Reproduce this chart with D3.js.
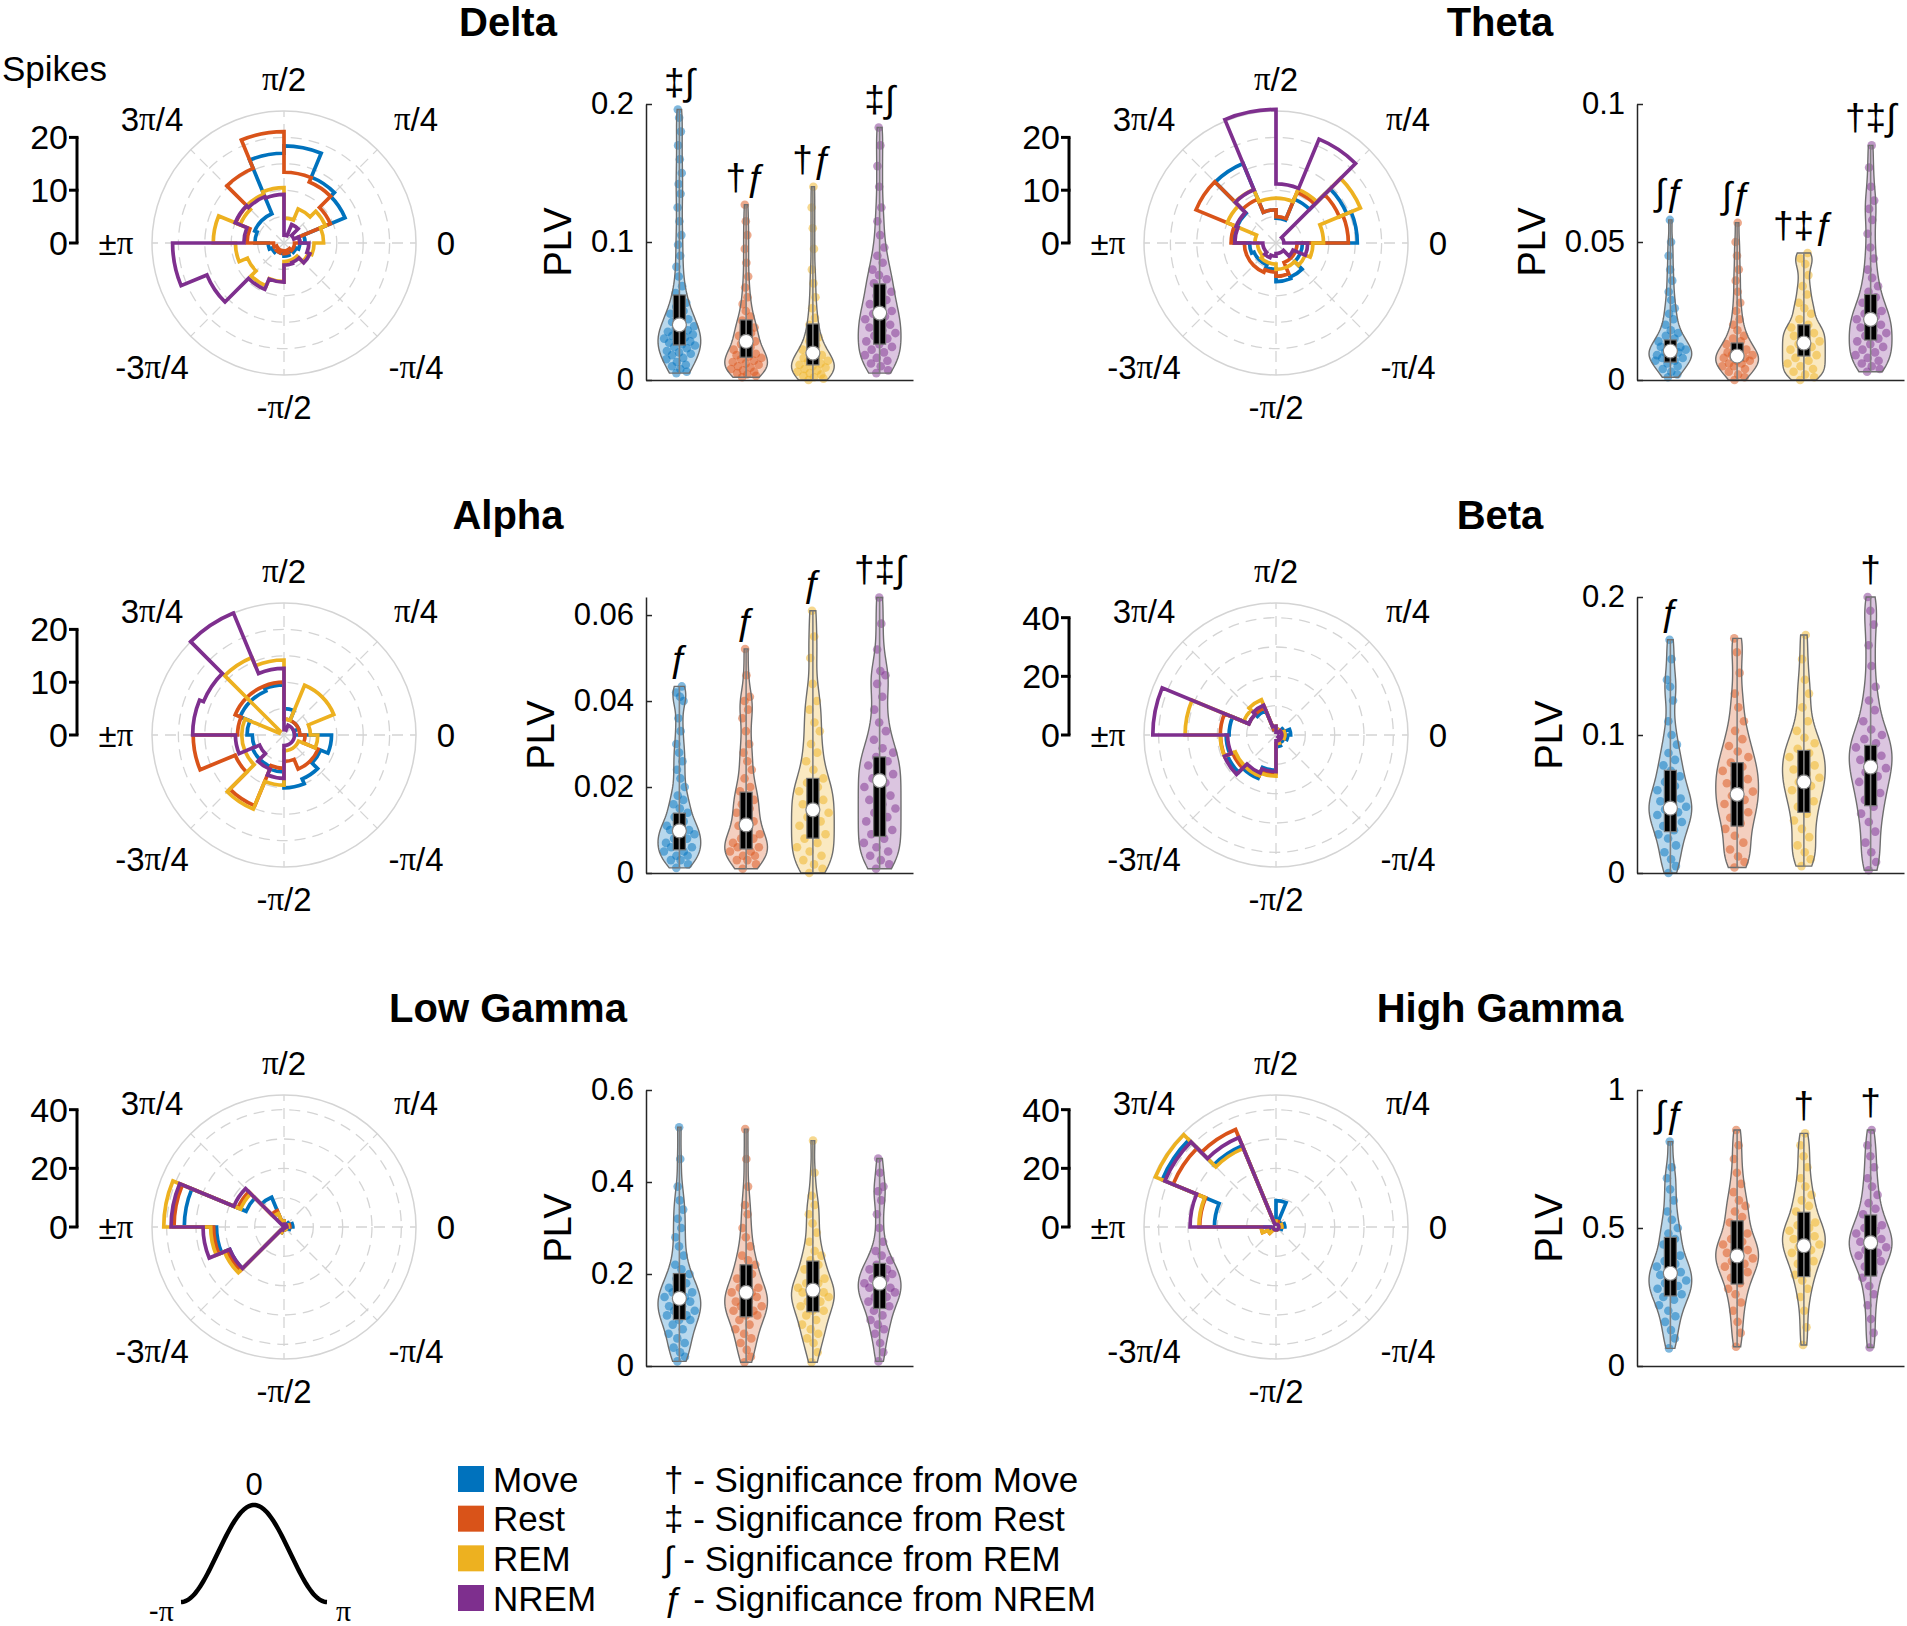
<!DOCTYPE html>
<html>
<head>
<meta charset="utf-8">
<script src="https://cdn.jsdelivr.net/npm/d3@7"></script>
<style>
  body { margin: 0; background: #fff; }
  text { font-family: "Liberation Sans", Arial, sans-serif; fill: #000; }
</style>
</head>
<body>
<svg id="fig" width="1907" height="1626"></svg>
<script>
// ---- data ----
var states = ["Move", "Rest", "REM", "NREM"];
var stateColors = ["#0072BD", "#D95319", "#EDB120", "#7E2F8E"];
var bandNames = ["Delta", "Theta", "Alpha", "Beta", "Low Gamma", "High Gamma"];
var thetaLabels = ["0", "π/4", "π/2", "3π/4", "±π", "-3π/4", "-π/2", "-π/4"];
var sigLegend = ["† - Significance from Move", "‡ - Significance from Rest",
                 "∫ - Significance from REM", "ƒ - Significance from NREM"];

// spike counts per 22.5 deg phase bin (bin 0 = 0..π/8, counter-clockwise), rows: Move, Rest, REM, NREM
var roseDelta = [
  [4, 12.5, 13.5, 18.4, 17, 6, 6, 5.5, 3, 2.5, 2, 2, 2.5, 2, 2.5, 3],
  [3, 9.5, 12.5, 13.4, 21.1, 15.3, 9.9, 7, 2, 1.5, 2, 1.5, 2, 1.5, 2, 2],
  [7.5, 8.5, 7, 4.7, 10.5, 10, 9, 13.4, 9.2, 7.5, 8.8, 7.3, 3.5, 3.5, 5, 5.7],
  [3, 2, 3.8, 1.5, 9.2, 9.5, 10, 7.6, 21.1, 15.8, 9.5, 7.4, 4.2, 4, 5.3, 4.7]
];
var roseTheta = [
  [15.4, 14.5, 9, 4.7, 6.3, 16.3, 8, 8, 5, 4.5, 4.5, 5, 7.3, 7, 5, 5],
  [13.7, 13, 10.4, 5, 6.3, 9, 16.4, 8.5, 6, 6, 6, 5.5, 6.3, 4, 4, 4],
  [9, 17.3, 11, 8.5, 8.5, 11, 10, 4, 3.5, 3.5, 4, 4, 5, 5, 6, 7],
  [1.5, 1.5, 21.3, 11.2, 25.3, 10.9, 8.2, 7.8, 2.5, 2.5, 3, 2.5, 2, 2, 3.5, 6]
];
var roseAlpha = [
  [2, 3, 3, 5, 9.5, 9, 9, 7, 6, 6.5, 6.5, 7, 10, 9, 7.5, 9],
  [3, 3, 3, 3, 10, 10, 10, 8.8, 17.2, 10, 14.5, 6.3, 5, 7, 7, 4],
  [5, 10.2, 10.2, 3, 14.2, 15.9, 1, 8, 8, 8, 15.2, 9.5, 3, 3, 3, 6.4],
  [2, 2, 2, 1, 12.6, 25, 16.5, 17.3, 9.2, 5, 7, 8.2, 2, 2, 2, 2]
];
var roseBeta = [
  [5, 3, 2, 2, 2, 9, 10, 16, 17, 18, 16, 12, 4, 3, 3, 4],
  [3, 2, 2, 2, 2, 10, 10, 19, 18.9, 16, 15, 13, 3, 2, 2, 3],
  [3, 2, 2, 2, 3, 13, 12, 31, 19, 15, 15, 14, 3, 2, 2, 3],
  [2, 2, 1, 1, 3, 11, 10, 42, 16.5, 19, 14, 12.5, 2, 2, 1, 2]
];
var roseLowGamma = [
  [3, 2, 1, 1, 2, 11, 14, 34, 23, 20, 2, 1, 1, 1, 1, 2],
  [2, 1, 1, 1, 2, 6, 17, 37.5, 24, 21, 2, 1, 1, 1, 1, 1],
  [1.5, 1, 1, 1, 2, 5, 16, 41, 25, 22, 2, 1, 1, 1, 1, 1],
  [1, 1, 0.5, 0.5, 1, 1, 18.5, 38.5, 27.6, 20, 1, 0.5, 0.5, 0.5, 0.5, 0.5]
];
var roseHighGamma = [
  [3, 2, 2, 9, 2, 30, 42, 21, 2, 1, 1, 1, 1, 1, 1, 2],
  [2, 1, 1, 2, 2, 36, 38, 26, 5, 3, 1, 1, 1, 1, 1, 1],
  [2, 1, 1, 1, 2, 29, 44.5, 26.3, 5, 3, 1, 1, 1, 1, 1, 1],
  [1, 1, 1, 1, 1, 33, 41, 29.3, 1, 1, 1, 1, 1, 1, 1, 1]
];
var roseLims = [25, 25, 25, 45, 45, 45];
var roseGrid = [[5, 10, 15, 20], [5, 10, 15, 20], [5, 10, 15, 20],
                [10, 20, 30, 40], [10, 20, 30, 40], [10, 20, 30, 40]];
var spikeTicks = [[0, 10, 20], [0, 10, 20], [0, 10, 20], [0, 20, 40], [0, 20, 40], [0, 20, 40]];

// PLV per unit (Move, Rest, REM, NREM)
var plvDelta = [
  [0.005,0.006,0.008,0.01,0.011,0.013,0.015,0.016,0.018,0.019,0.02,0.021,0.023,0.024,0.025,0.026,0.027,0.028,0.029,0.03,0.031,0.032,0.033,0.034,0.035,0.036,0.037,0.039,0.04,0.042,0.044,0.046,0.048,0.05,0.053,0.056,0.059,0.063,0.068,0.075,0.082,0.09,0.098,0.105,0.115,0.125,0.135,0.142,0.15,0.16,0.17,0.18,0.19,0.196],
  [0.002,0.003,0.004,0.005,0.006,0.007,0.008,0.009,0.01,0.011,0.012,0.013,0.014,0.015,0.016,0.017,0.018,0.019,0.02,0.022,0.024,0.026,0.028,0.03,0.032,0.034,0.036,0.038,0.04,0.043,0.046,0.05,0.055,0.06,0.067,0.075,0.085,0.095,0.105,0.115,0.127],
  [0.0,0.001,0.002,0.003,0.004,0.005,0.006,0.007,0.008,0.009,0.01,0.011,0.012,0.013,0.014,0.015,0.016,0.018,0.02,0.022,0.025,0.028,0.031,0.035,0.04,0.045,0.052,0.06,0.07,0.08,0.095,0.11,0.125,0.14],
  [0.005,0.007,0.01,0.012,0.014,0.016,0.018,0.02,0.022,0.024,0.026,0.028,0.03,0.032,0.034,0.036,0.038,0.04,0.042,0.044,0.046,0.048,0.05,0.052,0.055,0.058,0.061,0.064,0.067,0.07,0.073,0.076,0.08,0.085,0.09,0.096,0.105,0.115,0.125,0.14,0.155,0.17,0.183]
];
var plvTheta = [
  [0.001,0.002,0.003,0.004,0.005,0.006,0.007,0.007,0.008,0.008,0.009,0.009,0.01,0.01,0.011,0.011,0.012,0.012,0.013,0.014,0.015,0.016,0.017,0.018,0.02,0.022,0.024,0.026,0.029,0.032,0.036,0.04,0.045,0.05,0.058],
  [0.0,0.001,0.002,0.003,0.004,0.005,0.005,0.006,0.006,0.007,0.007,0.008,0.008,0.009,0.009,0.01,0.01,0.011,0.012,0.013,0.014,0.015,0.016,0.018,0.02,0.022,0.025,0.028,0.032,0.036,0.04,0.045,0.05,0.057],
  [0.0,0.001,0.002,0.003,0.004,0.005,0.006,0.007,0.008,0.009,0.01,0.011,0.012,0.013,0.014,0.015,0.016,0.017,0.018,0.019,0.02,0.022,0.024,0.026,0.028,0.031,0.034,0.038,0.042,0.044,0.046],
  [0.003,0.004,0.005,0.006,0.007,0.008,0.009,0.01,0.011,0.012,0.013,0.014,0.015,0.016,0.017,0.018,0.019,0.02,0.021,0.022,0.023,0.024,0.025,0.026,0.028,0.03,0.032,0.034,0.037,0.04,0.044,0.048,0.053,0.058,0.062,0.065,0.07,0.077,0.085]
];
var plvAlpha = [
  [0.0012,0.002,0.003,0.003,0.004,0.004,0.005,0.005,0.006,0.006,0.007,0.007,0.008,0.008,0.009,0.009,0.01,0.01,0.011,0.011,0.012,0.013,0.014,0.015,0.016,0.017,0.018,0.02,0.022,0.024,0.026,0.028,0.03,0.033,0.036,0.04,0.041,0.042,0.0434],
  [0.001,0.002,0.003,0.003,0.004,0.004,0.005,0.005,0.006,0.006,0.007,0.007,0.008,0.008,0.009,0.01,0.011,0.012,0.013,0.014,0.015,0.016,0.017,0.018,0.019,0.02,0.022,0.024,0.026,0.028,0.03,0.033,0.036,0.038,0.04,0.041,0.046,0.0521],
  [0.0,0.001,0.002,0.003,0.004,0.005,0.006,0.007,0.008,0.009,0.01,0.011,0.012,0.013,0.014,0.015,0.016,0.017,0.018,0.019,0.02,0.021,0.022,0.024,0.026,0.028,0.03,0.033,0.035,0.038,0.04,0.044,0.05,0.055,0.061],
  [0.001,0.002,0.003,0.004,0.005,0.006,0.007,0.008,0.009,0.01,0.011,0.012,0.013,0.014,0.015,0.016,0.017,0.018,0.019,0.02,0.021,0.022,0.023,0.024,0.025,0.026,0.027,0.028,0.029,0.031,0.033,0.035,0.038,0.041,0.044,0.046,0.047,0.052,0.058,0.0641]
];
var plvBeta = [
  [0.0,0.005,0.01,0.015,0.02,0.025,0.028,0.031,0.034,0.037,0.04,0.042,0.044,0.046,0.048,0.05,0.052,0.054,0.057,0.06,0.063,0.066,0.07,0.074,0.078,0.082,0.087,0.093,0.1,0.11,0.125,0.135,0.14,0.155,0.169],
  [0.004,0.008,0.012,0.017,0.022,0.027,0.032,0.036,0.04,0.044,0.047,0.05,0.053,0.056,0.059,0.062,0.065,0.068,0.071,0.074,0.077,0.08,0.084,0.088,0.092,0.097,0.103,0.11,0.12,0.13,0.145,0.16,0.17],
  [0.005,0.01,0.015,0.02,0.026,0.032,0.038,0.043,0.048,0.052,0.056,0.06,0.063,0.066,0.069,0.072,0.075,0.078,0.081,0.084,0.087,0.09,0.094,0.098,0.103,0.11,0.12,0.13,0.14,0.155,0.1725],
  [0.002,0.008,0.015,0.022,0.03,0.037,0.043,0.048,0.053,0.058,0.062,0.066,0.07,0.073,0.076,0.079,0.082,0.085,0.088,0.091,0.094,0.097,0.1,0.104,0.11,0.118,0.125,0.135,0.15,0.165,0.18,0.19,0.2]
];
var plvLowGamma = [
  [0.01,0.02,0.03,0.04,0.05,0.06,0.07,0.08,0.09,0.1,0.1,0.11,0.11,0.12,0.12,0.13,0.13,0.14,0.14,0.15,0.15,0.16,0.16,0.17,0.17,0.18,0.19,0.2,0.21,0.22,0.24,0.26,0.28,0.3,0.32,0.34,0.36,0.39,0.45,0.519],
  [0.008,0.02,0.035,0.05,0.06,0.07,0.08,0.09,0.1,0.11,0.11,0.12,0.12,0.13,0.13,0.14,0.14,0.15,0.15,0.16,0.16,0.17,0.17,0.18,0.19,0.2,0.21,0.22,0.23,0.24,0.26,0.28,0.3,0.33,0.35,0.39,0.45,0.515],
  [0.008,0.03,0.05,0.06,0.07,0.08,0.09,0.1,0.11,0.12,0.12,0.13,0.14,0.14,0.15,0.15,0.16,0.16,0.17,0.17,0.18,0.18,0.19,0.2,0.21,0.22,0.23,0.24,0.25,0.27,0.29,0.31,0.33,0.35,0.37,0.42,0.49],
  [0.01,0.03,0.05,0.07,0.08,0.09,0.1,0.11,0.12,0.13,0.14,0.14,0.15,0.15,0.16,0.16,0.17,0.17,0.18,0.18,0.19,0.19,0.2,0.2,0.21,0.21,0.22,0.23,0.24,0.25,0.27,0.3,0.33,0.36,0.38,0.39,0.42,0.451]
];
var plvHighGamma = [
  [0.064,0.1,0.13,0.16,0.18,0.2,0.22,0.24,0.25,0.26,0.27,0.28,0.29,0.3,0.31,0.32,0.33,0.34,0.35,0.36,0.37,0.38,0.4,0.42,0.44,0.46,0.48,0.5,0.53,0.56,0.6,0.64,0.68,0.72,0.813],
  [0.07,0.12,0.16,0.2,0.23,0.26,0.28,0.3,0.32,0.34,0.35,0.36,0.37,0.38,0.39,0.4,0.41,0.42,0.43,0.44,0.45,0.46,0.48,0.5,0.52,0.54,0.56,0.58,0.6,0.63,0.66,0.7,0.75,0.8,0.855],
  [0.076,0.14,0.2,0.25,0.28,0.31,0.33,0.35,0.37,0.38,0.4,0.41,0.42,0.43,0.44,0.45,0.46,0.47,0.48,0.49,0.5,0.51,0.52,0.54,0.56,0.58,0.6,0.62,0.65,0.68,0.72,0.76,0.8,0.843],
  [0.067,0.12,0.17,0.22,0.26,0.29,0.32,0.34,0.36,0.38,0.39,0.4,0.41,0.42,0.43,0.44,0.45,0.46,0.47,0.48,0.49,0.5,0.51,0.53,0.55,0.57,0.59,0.62,0.65,0.68,0.72,0.76,0.8,0.855]
];
// [q1, median, q3]
var boxDelta = [[0.0254, 0.040, 0.0616], [0.0165, 0.028, 0.0435], [0.011, 0.0195, 0.0406], [0.026, 0.0485, 0.0696]];
var boxTheta = [[0.0065, 0.0105, 0.0145], [0.0072, 0.0087, 0.0134], [0.0087, 0.0134, 0.020], [0.0145, 0.022, 0.031]];
var boxAlpha = [[0.0054, 0.0098, 0.0139], [0.0056, 0.0112, 0.0188], [0.0081, 0.0147, 0.022], [0.0085, 0.0215, 0.027]];
var boxBeta = [[0.030, 0.047, 0.0744], [0.034, 0.057, 0.080], [0.0439, 0.066, 0.0888], [0.0488, 0.0768, 0.0925]];
var boxLowGamma = [[0.101, 0.147, 0.201], [0.107, 0.16, 0.22], [0.118, 0.165, 0.228], [0.125, 0.18, 0.223]];
var boxHighGamma = [[0.254, 0.336, 0.466], [0.297, 0.399, 0.526], [0.324, 0.436, 0.557], [0.326, 0.447, 0.547]];

var plvLims = [0.2, 0.1, 0.0642, 0.2, 0.6, 1];
var plvTicks = [[0, 0.1, 0.2], [0, 0.05, 0.1], [0, 0.02, 0.04, 0.06], [0, 0.1, 0.2], [0, 0.2, 0.4, 0.6], [0, 0.5, 1]];
var sigDelta = ["‡∫", "†ƒ", "†ƒ", "‡∫"];
var sigTheta = ["∫ƒ", "∫ƒ", "†‡ƒ", "†‡∫"];
var sigAlpha = ["ƒ", "ƒ", "ƒ", "†‡∫"];
var sigBeta = ["ƒ", "", "", "†"];
var sigLowGamma = ["", "", "", ""];
var sigHighGamma = ["∫ƒ", "", "†", "†"];

var roses = [roseDelta, roseTheta, roseAlpha, roseBeta, roseLowGamma, roseHighGamma];
var plvs = [plvDelta, plvTheta, plvAlpha, plvBeta, plvLowGamma, plvHighGamma];
var boxes = [boxDelta, boxTheta, boxAlpha, boxBeta, boxLowGamma, boxHighGamma];
var sigs = [sigDelta, sigTheta, sigAlpha, sigBeta, sigLowGamma, sigHighGamma];

// ---- layout ----
var svg = d3.select("#fig");
var polarR = 132;
var colCx = [284, 1276], rowCy = [243, 735, 1227];
var violinX0 = [646, 1637], violinBottom = [380, 873, 1366], violinH = 276, violinW = 267;
var titleX = [508, 1500], titleY = [36, 529, 1022];
var gridColor = "#d4d4d4", axisColor = "#262626";

function piText(sel, str) {
  str.split(/(π)/).forEach(function(part) {
    if (!part) return;
    sel.append("tspan").text(part)
      .style("font-family", part === "π" ? "'Liberation Serif', 'Times New Roman', serif" : null);
  });
}

function drawPolar(g, rose, rlim, rgrid, bar) {
  var r = d3.scaleLinear().domain([0, rlim]).range([0, polarR]);
  var step = Math.PI / 8;

  g.selectAll(".ring").data(rgrid).enter().append("circle")
    .attr("r", function(d) { return r(d); })
    .attr("fill", "none").attr("stroke", gridColor).attr("stroke-width", 1.3)
    .attr("stroke-dasharray", "11,7");
  g.append("circle").attr("r", r(rlim))
    .attr("fill", "none").attr("stroke", gridColor).attr("stroke-width", 1.5);
  g.selectAll(".spoke").data(d3.range(8)).enter().append("line")
    .attr("x1", 0).attr("y1", 0)
    .attr("x2", function(k) { return r(rlim) * Math.cos(k * Math.PI / 4); })
    .attr("y2", function(k) { return -r(rlim) * Math.sin(k * Math.PI / 4); })
    .attr("stroke", gridColor).attr("stroke-width", 1.3).attr("stroke-dasharray", "11,7");

  // theta labels
  thetaLabels.forEach(function(lab, k) {
    var a = k * Math.PI / 4;
    var diag = k % 2 === 1;
    var lx = diag ? 132 * Math.sign(Math.cos(a)) : 162 * Math.round(Math.cos(a));
    var ly = diag ? -124 * Math.sign(Math.sin(a)) : -164 * Math.round(Math.sin(a));
    if (k === 4) lx = -168;
    var t = g.append("text").attr("x", lx).attr("y", ly)
      .attr("text-anchor", "middle").attr("dominant-baseline", "central")
      .style("font-size", "33px");
    piText(t, lab);
  });

  // stairs outlines
  rose.forEach(function(counts, s) {
    var p = d3.path();
    counts.forEach(function(c, k) {
      p.arc(0, 0, r(c), -k * step, -(k + 1) * step, true);
    });
    p.closePath();
    g.append("path").attr("d", p.toString())
      .attr("fill", "none").attr("stroke", stateColors[s])
      .attr("stroke-width", 3.7).attr("stroke-linejoin", "miter");
  });

  // radial scale bar
  var bx = -207;
  var bg = g.append("g");
  bg.append("line").attr("x1", bx).attr("x2", bx)
    .attr("y1", -r(0)).attr("y2", -r(d3.max(bar)))
    .attr("stroke", "#000").attr("stroke-width", 3);
  bar.forEach(function(t) {
    bg.append("line").attr("x1", bx - 8).attr("x2", bx + 1.5)
      .attr("y1", -r(t)).attr("y2", -r(t)).attr("stroke", "#000").attr("stroke-width", 3);
    bg.append("text").attr("x", bx - 9).attr("y", -r(t))
      .attr("text-anchor", "end").attr("dominant-baseline", "central")
      .style("font-size", "34px").text(t);
  });
}

function kde(vals, bw) {
  return function(y) {
    return d3.sum(vals, function(v) { var u = (y - v) / bw; return Math.exp(-0.5 * u * u); });
  };
}

function drawViolins(g, data, box, sig, ylim, ticks, x0, bottom) {
  var x = d3.scaleLinear().domain([0.5, 4.5]).range([x0, x0 + violinW]);
  var y = d3.scaleLinear().domain([0, ylim]).range([bottom, bottom - violinH]);
  var halfMax = 0.32 * (x(2) - x(1));

  data.forEach(function(vals, i) {
    var cx = x(i + 1);
    var lo = d3.min(vals), hi = d3.max(vals);
    var f = kde(vals, 0.06 * (hi - lo));
    var grid = d3.range(81).map(function(j) { return lo + (hi - lo) * j / 80; });
    var dens = grid.map(f);
    var dmax = d3.max(dens);
    var hw = function(v) { return halfMax * f(v) / dmax; };
    var prof = grid.map(function(v, j) { return { v: v, w: halfMax * dens[j] / dmax }; });
    var area = d3.area()
      .x0(function(d) { return cx - d.w; })
      .x1(function(d) { return cx + d.w; })
      .y(function(d) { return y(d.v); });
    g.append("path").attr("d", area(prof))
      .attr("fill", stateColors[i]).attr("fill-opacity", 0.28).attr("stroke", "none");
    g.selectAll(".dot" + i).data(vals).enter().append("circle")
      .attr("cx", function(v, j) { var fr = (j * 0.618034 + 0.31) % 1; return cx + (fr * 2 - 1) * hw(v) * 0.8; })
      .attr("cy", function(v) { return y(v); })
      .attr("r", 4.3).attr("fill", stateColors[i]).attr("fill-opacity", 0.5);
    g.append("path").attr("d", area(prof))
      .attr("fill", "none").attr("stroke", "#6e6e6e").attr("stroke-width", 1.4);
    // box
    g.append("rect").attr("x", cx - 6).attr("width", 12)
      .attr("y", y(box[i][2])).attr("height", y(box[i][0]) - y(box[i][2]))
      .attr("fill", "#000").attr("stroke", "#707070").attr("stroke-width", 1.2);
    g.append("line").attr("x1", cx).attr("x2", cx).attr("y1", y(lo)).attr("y2", y(hi))
      .attr("stroke", "#808080").attr("stroke-width", 1.6);
    g.append("circle").attr("cx", cx).attr("cy", y(box[i][1])).attr("r", 7)
      .attr("fill", "#fff").attr("stroke", "#808080").attr("stroke-width", 1.2);
    if (sig[i]) {
      g.append("text").attr("x", cx).attr("y", y(hi) - 15)
        .attr("text-anchor", "middle").style("font-size", "37px").text(sig[i]);
    }
  });

  var ax = g.append("g").attr("transform", "translate(" + x0 + ",0)")
    .call(d3.axisLeft(y).tickValues(ticks).tickSizeInner(-6).tickSizeOuter(0).tickPadding(12)
      .tickFormat(function(d) { return String(d); }));
  ax.select(".domain").attr("stroke", axisColor).attr("stroke-width", 1.5);
  ax.selectAll(".tick line").attr("stroke", axisColor).attr("stroke-width", 1.5);
  ax.selectAll(".tick text").style("font-size", "31px").attr("fill", "#000")
    .style("font-family", "'Liberation Sans', Arial, sans-serif");
  var bx = g.append("g").attr("transform", "translate(0," + bottom + ")")
    .call(d3.axisBottom(x).tickValues([]).tickSizeOuter(0));
  bx.select(".domain").attr("stroke", axisColor).attr("stroke-width", 1.5);

  var tw = d3.max(ax.selectAll(".tick text").nodes(), function(n) { return n.getBBox().width; });
  g.append("text")
    .attr("transform", "translate(" + (x0 - 12 - tw - 20) + "," + (bottom - violinH / 2) + ") rotate(-90)")
    .attr("text-anchor", "middle").style("font-size", "38px").text("PLV");
}

bandNames.forEach(function(name, i) {
  var col = i % 2, row = Math.floor(i / 2);
  var pg = svg.append("g").attr("transform", "translate(" + colCx[col] + "," + rowCy[row] + ")");
  drawPolar(pg, roses[i], roseLims[i], roseGrid[i], spikeTicks[i]);
  drawViolins(svg.append("g"), plvs[i], boxes[i], sigs[i], plvLims[i], plvTicks[i],
    violinX0[col], violinBottom[row]);
  svg.append("text").attr("x", titleX[col]).attr("y", titleY[row])
    .attr("text-anchor", "middle").style("font-size", "40px").style("font-weight", "bold").text(name);
});

svg.append("text").attr("x", 2).attr("y", 81).style("font-size", "35px").text("Spikes");

// ---- legend ----
var ly = d3.scalePoint().domain(states).range([1479, 1598]);
states.forEach(function(s, i) {
  svg.append("rect").attr("x", 458).attr("y", ly(s) - 13).attr("width", 26).attr("height", 26)
    .attr("fill", stateColors[i]);
  svg.append("text").attr("x", 493).attr("y", ly(s)).attr("dominant-baseline", "central")
    .style("font-size", "35px").text(s);
  svg.append("text").attr("x", 664).attr("y", ly(s)).attr("dominant-baseline", "central")
    .style("font-size", "35px").text(sigLegend[i]);
});

// phase schematic
var px = d3.scaleLinear().domain([-Math.PI, Math.PI]).range([181, 327]);
var py = d3.scaleLinear().domain([-1, 1]).range([1602, 1505]);
svg.append("path")
  .attr("d", d3.line().x(function(p) { return px(p); }).y(function(p) { return py(Math.cos(p)); })
    (d3.range(-Math.PI, Math.PI + 0.001, Math.PI / 60)))
  .attr("fill", "none").attr("stroke", "#000").attr("stroke-width", 4.5);
svg.append("text").attr("x", px(0)).attr("y", 1484).attr("text-anchor", "middle")
  .attr("dominant-baseline", "central").style("font-size", "31px").text("0");
var tl = svg.append("text").attr("x", 174).attr("y", 1610).attr("text-anchor", "end")
  .attr("dominant-baseline", "central").style("font-size", "30px");
piText(tl, "-π");
var tr = svg.append("text").attr("x", 336).attr("y", 1610).attr("text-anchor", "start")
  .attr("dominant-baseline", "central").style("font-size", "30px");
piText(tr, "π");
</script>
</body>
</html>
